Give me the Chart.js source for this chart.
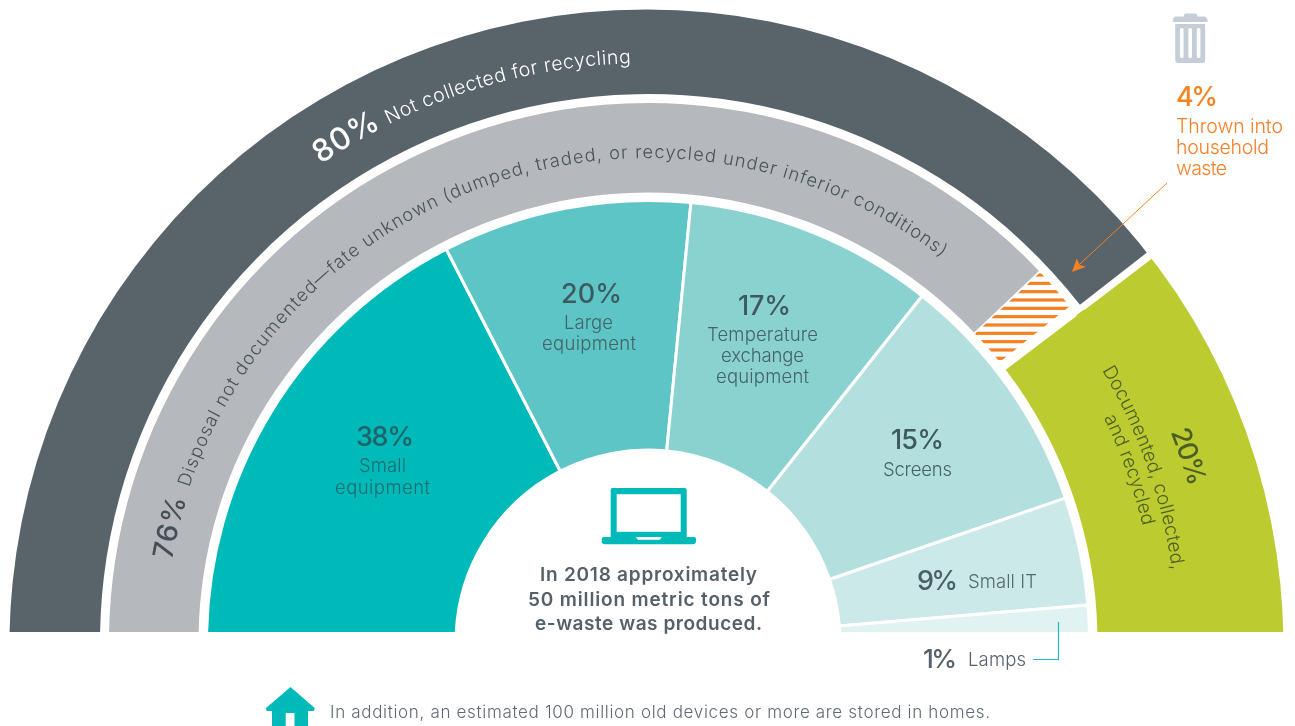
<!DOCTYPE html>
<html lang="en">
<head>
<meta charset="utf-8">
<title>E-waste 2018</title>
<script src="https://cdn.jsdelivr.net/npm/chart.js@4"></script>
<style>
  html, body { margin: 0; padding: 0; background: #fff; overflow: hidden; }
  #wrap { position: relative; width: 1295px; height: 726px; }
  canvas, svg { position: absolute; left: 0; top: 0; }
  text { font-family: Inter, "Open Sans", sans-serif; }
</style>
</head>
<body>
<div id="wrap">
  <canvas id="c" width="1295" height="726"></canvas>
  <svg id="s" width="1295" height="726" xmlns="http://www.w3.org/2000/svg"></svg>
</div>
<script>
// Percentages printed in the reference.
const collectionNames = ['Not collected for recycling', 'Documented, collected,', 'and recycled'];
const collectionPercents = [80, 20];
const disposalNames = ['Disposal not documented\u2014fate unknown (dumped, traded, or recycled under inferior conditions)', 'Thrown into', 'household', 'waste'];
const disposalPercents = [76, 4];
const categoryPercents = [38, 20, 17, 15, 9, 1];

// Shares of the half circle as actually drawn in the reference, read from its slice
// edges (the reference's wedges are not strictly to scale with its printed percentages).
const outerShares = [78.9, 0.4, 20.7];                   // not collected, gap, documented
const middleShares = [75.83, 0.11, 2.66, 0.7, 20.7];     // undocumented, gap, household, gap, documented
const categoryShares = [34.9, 18.2, 18.23, 18.11, 7.89, 2.67]; // small, large, temperature, screens, small IT, lamps
const gapShares1 = [79.3, 20.7];
const gapShares2 = [100];

const DARK = '#58636a', GREY = '#b5b8bc', GREEN = '#bccb2f', ORANGE = '#f58220', NONE = 'rgba(0,0,0,0)';
const categoryColors = ['#00baba', '#5dc5c5', '#8ad2d0', '#b3e0de', '#cbe9e8', '#e0f2f1'];

// Horizontal orange hatch, 8.33 px pitch
function hatch() {
  const t = document.createElement('canvas');
  t.width = 10; t.height = 25;
  const g = t.getContext('2d');
  g.fillStyle = '#fff'; g.fillRect(0, 0, 10, 25);
  g.fillStyle = ORANGE;
  [0, 25 / 3, 50 / 3, 25].forEach(y => g.fillRect(0, y - 1.6, 10, 3.2));
  return document.getElementById('c').getContext('2d').createPattern(t, 'repeat');
}

// The outer edge sits on a slightly lower centre than the inner rings, and everything stops at the baseline.
const clipShape = {
  id: 'clipShape',
  beforeDatasetsDraw(chart) {
    const ctx = chart.ctx;
    ctx.save();
    ctx.beginPath(); ctx.rect(0, 0, 1295, 632); ctx.clip();
    ctx.beginPath(); ctx.arc(646.4, 646.5, 637, 0, Math.PI * 2); ctx.clip();
  },
  afterDatasetsDraw(chart) { chart.ctx.restore(); }
};

new Chart(document.getElementById('c'), {
  type: 'doughnut',
  data: {
    datasets: [
      { data: outerShares, backgroundColor: [DARK, NONE, GREEN], borderWidth: 0, weight: 94 },
      { data: gapShares1, backgroundColor: [NONE, GREEN], borderWidth: [0, 1.4], borderColor: [NONE, GREEN], weight: 9 },
      { data: middleShares, backgroundColor: [GREY, NONE, hatch(), NONE, GREEN], borderWidth: 0, weight: 89.5 },
      { data: gapShares2, backgroundColor: [NONE], borderWidth: 0, weight: 8 },
      { data: categoryShares, backgroundColor: categoryColors, borderWidth: 3, borderColor: '#fff', borderAlign: 'center', weight: 249.5 }
    ]
  },
  options: {
    responsive: false,
    animation: false,
    events: [],
    rotation: -90,
    circumference: 180,
    cutout: (192 / 642 * 100) + '%',
    layout: { padding: { left: 6, right: 5, top: 0, bottom: 84 } },
    plugins: { legend: { display: false }, tooltip: { enabled: false } }
  },
  plugins: [clipShape]
});

// ---- annotations ----
const svg = document.getElementById('s');
const NS = 'http://www.w3.org/2000/svg';
const CX = 648, CY = 642;
function el(name, attrs, parent) {
  const e = document.createElementNS(NS, name);
  for (const k in attrs) e.setAttribute(k, attrs[k]);
  (parent || svg).appendChild(e);
  return e;
}
function fit(t, str, width) {
  const n = Math.max(str.length - 1, 1);
  const natural = t.getComputedTextLength();
  t.style.letterSpacing = ((width - natural) / n).toFixed(3) + 'px';
}
function line(str, x0, x1, y, size, weight, color) {
  const t = el('text', { x: x0, y: y, 'font-size': size, 'font-weight': weight, fill: color });
  t.textContent = str;
  fit(t, str, x1 - x0);
}
let pid = 0;
// angles in degrees, 0 = left horizon, 90 = top, 180 = right horizon, running clockwise
function curved(str, r, a0, a1, size, weight, color) {
  const id = 'p' + (pid++);
  const pt = a => { const q = a * Math.PI / 180; return (CX - r * Math.cos(q)).toFixed(2) + ' ' + (CY - r * Math.sin(q)).toFixed(2); };
  el('path', { id: id, d: 'M ' + pt(a0 - 3) + ' A ' + r + ' ' + r + ' 0 0 1 ' + pt(Math.min(a1 + 25, 178)), fill: 'none' });
  const t = el('text', { 'font-size': size, 'font-weight': weight, fill: color });
  const tp = el('textPath', { href: '#' + id, startOffset: (3 * Math.PI / 180 * r).toFixed(2) }, t);
  tp.textContent = str;
  fit(t, str, (a1 - a0) * Math.PI / 180 * r);
}

const pct = v => v + '%';
const NUM = '#3e5a60', NUMTEAL = '#1f6366', LAB = '#45636a', LABTEAL = '#1d6c70', SLATE = '#55616a';
const LIGHT = 350, BOLD = 550;

// outer ring
curved(pct(collectionPercents[0]), 579, 55.6, 62.6, 31, BOLD, '#ffffff');
curved(collectionNames[0], 579, 63.4, 88.3, 19.5, LIGHT, '#ffffff');
// middle ring
curved(pct(disposalPercents[0]), 483, 9.8, 17.2, 28, BOLD, '#454f56');
curved(disposalNames[0], 484, 18.6, 127.3, 18.2, LIGHT, '#46525a');
// green wedge
curved(pct(collectionPercents[1]), 563, 158.1, 164, 27, BOLD, '#4c5f22');
curved(collectionNames[1], 529, 149.1, 172.2, 19, LIGHT, '#4c5f22');
curved(collectionNames[2], 508, 153.8, 166.8, 19, LIGHT, '#4c5f22');

// inner slices
line(pct(categoryPercents[0]), 356, 414, 446, 27, BOLD, NUMTEAL);
line('Small', 359, 406, 472, 18.5, LIGHT, LABTEAL);
line('equipment', 335, 430, 493.5, 18.5, LIGHT, LABTEAL);
line(pct(categoryPercents[1]), 561, 622, 303, 27, BOLD, NUM);
line('Large', 564, 613, 329, 18.5, LIGHT, LAB);
line('equipment', 542, 636, 350, 18.5, LIGHT, LAB);
line(pct(categoryPercents[2]), 738, 791, 315, 27, BOLD, NUM);
line('Temperature', 707, 818, 341, 18.5, LIGHT, LAB);
line('exchange', 721, 804, 362, 18.5, LIGHT, LAB);
line('equipment', 716, 809, 383, 18.5, LIGHT, LAB);
line(pct(categoryPercents[3]), 891, 944, 449, 27, BOLD, NUM);
line('Screens', 883, 952, 476, 18.5, LIGHT, LAB);
line(pct(categoryPercents[4]), 917, 958, 590, 27, BOLD, '#4b5f66');
line('Small IT', 968, 1037, 588, 18.5, LIGHT, '#55686f');
line(pct(categoryPercents[5]), 923, 957, 668, 26, BOLD, SLATE);
line('Lamps', 968, 1026, 666, 18.5, LIGHT, SLATE);
el('path', { d: 'M1033 659.5H1058.5V622', fill: 'none', stroke: '#1fbcc0', 'stroke-width': 1.2 });

// centre
line('In 2018 approximately', 540, 757, 580.5, 19, 600, SLATE);
line('50 million metric tons of', 528, 770, 605.5, 19, 600, SLATE);
line('e-waste was produced.', 535, 762, 630, 19, 600, SLATE);
el('path', { d: 'M613 488H684.7A2 2 0 0 1 686.7 490V537H694A2 2 0 0 1 696 539V541A3.3 3.3 0 0 1 692.7 544.3H605A3.3 3.3 0 0 1 601.7 541V539A2 2 0 0 1 603.7 537H610.7V490A2 2 0 0 1 613 488Z', fill: '#00baba' });
el('rect', { x: 616.7, y: 494.2, width: 64, height: 37.6, fill: '#fff' });
el('path', { d: 'M635.7 537H661.7L660 539.8H638Z', fill: '#fff' });

// footer
el('path', { d: 'M290.5 687L314.7 708L314 711H308V726H294.5V713H285.7V726H272V711H266.6L266 708Z', fill: '#00baba' });
line('In addition, an estimated 100 million old devices or more are stored in homes.', 330, 990, 717.5, 17, LIGHT, '#5f6a72');

// household callout
el('path', { d: 'M1185.5 13.5H1195.5Q1197 13.5 1197.5 16.5H1204Q1207.7 16.5 1207.7 22H1172.7Q1172.7 16.5 1176.5 16.5H1183.5Q1184 13.5 1185.5 13.5ZM1175.2 24H1205.2V60Q1205.2 63 1202.2 63H1178.2Q1175.2 63 1175.2 60Z', fill: '#c5ced6' });
[1180, 1188.4, 1196.8].forEach(x => el('rect', { x: x, y: 28, width: 3.6, height: 30, rx: 1.5, fill: '#fff' }));
line(pct(disposalPercents[1]), 1176, 1218, 106, 27, BOLD, ORANGE);
line(disposalNames[1], 1176, 1283, 133, 19.5, LIGHT, '#f5812a');
line(disposalNames[2], 1176, 1269, 154, 19.5, LIGHT, '#f5812a');
line(disposalNames[3], 1176, 1227, 175, 19.5, LIGHT, '#f5812a');
el('line', { x1: 1167, y1: 183, x2: 1080, y2: 264, stroke: ORANGE, 'stroke-width': 1 });
el('polygon', { points: '1072,272 1076.7,258.5 1080,265 1086,266.7', fill: ORANGE });
</script>
</body>
</html>
